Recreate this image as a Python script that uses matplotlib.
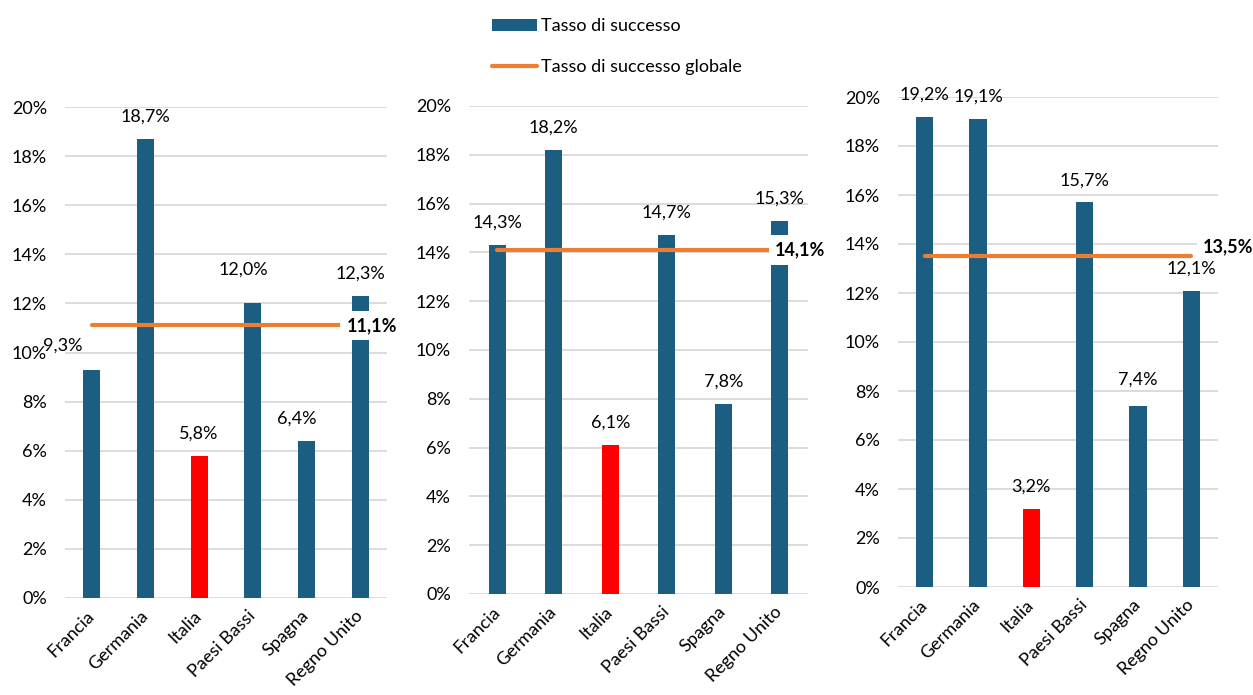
import matplotlib
matplotlib.use('Agg')
import matplotlib.pyplot as plt
from matplotlib.patches import Patch
from matplotlib.lines import Line2D
from matplotlib.ticker import FuncFormatter

plt.rcParams['font.family'] = ['Lato', 'DejaVu Sans']

# ---------------- data ----------------
categories = ['Francia', 'Germania', 'Italia', 'Paesi Bassi', 'Spagna', 'Regno Unito']
panel1_rates = [9.3, 18.7, 5.8, 12.0, 6.4, 12.3]
panel2_rates = [14.3, 18.2, 6.1, 14.7, 7.8, 15.3]
panel3_rates = [19.2, 19.1, 3.2, 15.7, 7.4, 12.1]
global_rates = [11.1, 14.1, 13.5]
y_ticks = [0, 2, 4, 6, 8, 10, 12, 14, 16, 18, 20]
series_labels = ['Tasso di successo', 'Tasso di successo globale']
highlight_category = 'Italia'

# ---------------- style ----------------
BLUE = '#1B5E82'
RED = '#FF0000'
ORANGE = '#ED7D31'
GRID = '#D9D9D9'
FS = 13

W, H = 1253, 695
axes_rects = [
    [65 / W, 1 - 598 / H, 322 / W, 491 / H],
    [469 / W, 1 - 594 / H, 339 / W, 488 / H],
    [898 / W, 1 - 587 / H, 320 / W, 490 / H],
]
bar_widths = [0.32, 0.30, 0.32]
global_label_x = [4.75, 4.92, 5.22]
global_label_dy = [0, 0, 7]
# per-label offsets (points) for data labels: {(panel, index): (dx, dy)}
label_adjust = {(0, 0): (-21, 1), (0, 3): (-7, 8), (0, 4): (-7, 0), (2, 4): (0, 3)}


def fmt(v):
    return f"{v:.1f}%".replace('.', ',')


fig = plt.figure(figsize=(W / 100, H / 100), dpi=100)
panels = [panel1_rates, panel2_rates, panel3_rates]

for p, (rates, rect) in enumerate(zip(panels, axes_rects)):
    ax = fig.add_axes(rect)
    x = list(range(len(categories)))
    colors = [RED if c == highlight_category else BLUE for c in categories]
    ax.bar(x, rates, width=bar_widths[p], color=colors, zorder=2)
    ax.set_xlim(-0.5, len(categories) - 0.5)
    ax.set_ylim(0, 20)
    ax.set_yticks(y_ticks)
    ax.yaxis.set_major_formatter(FuncFormatter(lambda v, pos: f"{int(round(v))}%"))
    ax.grid(axis='y', color=GRID, linewidth=1.3, zorder=0)
    ax.set_axisbelow(True)
    for s in ax.spines.values():
        s.set_visible(False)
    ax.tick_params(axis='y', length=0, pad=13, labelsize=FS)
    ax.tick_params(axis='x', length=0, pad=11, labelsize=FS)
    ax.set_xticks(x)
    ax.set_xticklabels(categories, rotation=45, ha='right', va='center',
                       rotation_mode='anchor')

    for i, v in enumerate(rates):
        dx, dy = label_adjust.get((p, i), (0, 0))
        ax.annotate(fmt(v), xy=(i, v), xytext=(dx, 16 + dy),
                    textcoords='offset points', ha='center', va='center',
                    fontsize=FS, zorder=4)

    g = global_rates[p]
    ax.plot([0, len(categories) - 1], [g, g], color=ORANGE, linewidth=3,
            solid_capstyle='round', zorder=3)
    ax.annotate(fmt(g), xy=(global_label_x[p], g), xytext=(0, global_label_dy[p]),
                textcoords='offset points', ha='left', va='center',
                fontsize=FS, fontweight='bold', zorder=5, annotation_clip=False,
                bbox=dict(boxstyle='square,pad=0.35', fc='white', ec='none'))

handles = [Patch(facecolor=BLUE, edgecolor='none'),
           Line2D([0], [0], color=ORANGE, linewidth=3, solid_capstyle='round')]
fig.legend(handles, series_labels, loc='upper left',
           bbox_to_anchor=(492 / W, 1 - 18 / H), frameon=False, fontsize=FS,
           handlelength=2.5, handleheight=0.65, handletextpad=0.2,
           labelspacing=1.4, borderpad=0, borderaxespad=0)

fig.savefig('out.png', dpi=100)
